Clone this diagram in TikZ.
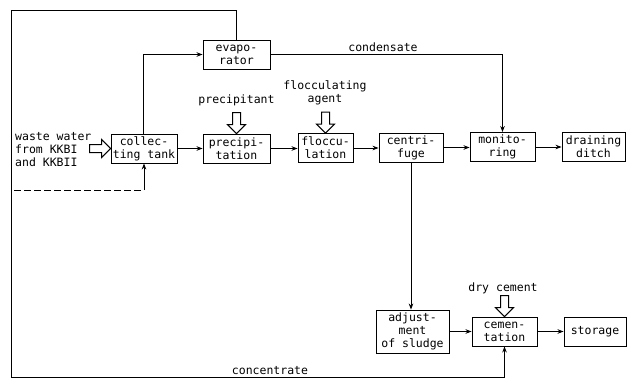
\documentclass[tikz,border=0pt]{standalone}
\usepackage{fontspec}
\setmonofont{DejaVu Sans Mono}
\usetikzlibrary{arrows.meta}
\begin{document}
\begin{tikzpicture}[x=1pt,y=-1pt,
  every node/.style={font=\ttfamily\fontsize{11.5}{13}\selectfont},
  box/.style={draw,line width=0.9pt,rectangle,inner sep=0pt,align=center,minimum height=29pt},
  lbl/.style={inner sep=0pt,align=center},
  flow/.style={line width=0.8pt,-{Stealth[length=6pt,width=4.5pt]}},
  line/.style={line width=0.8pt},
  harrow/.pic={\draw[line width=1pt,fill=white] (0,0) -- (-9,9) -- (-9,4) -- (-21,4) -- (-21,-4) -- (-9,-4) -- (-9,-9) -- cycle;}
]
\useasboundingbox[fill=white] (0,0) rectangle (627,380);
% boxes
\node[box,minimum width=67pt] (evap) at (236.5,54.5) {evapo-\\rator};
\node[box,minimum width=66pt] (coll) at (144,148.5) {collec-\\ting tank};
\node[box,minimum width=67pt] (prec) at (236.5,148.5) {precipi-\\tation};
\node[box,minimum width=55pt] (floc) at (325.5,148) {floccu-\\lation};
\node[box,minimum width=64pt] (cent) at (411,147.5) {centri-\\fuge};
\node[box,minimum width=65pt] (moni) at (502.5,147) {monito-\\ring};
\node[box,minimum width=63pt] (drain) at (593.5,147) {draining\\ditch};
\node[box,minimum width=73pt,minimum height=43pt] (adj) at (412.5,331.5) {adjust-\\ment\\of sludge};
\node[box,minimum width=65pt] (cem) at (504.5,331.5) {cemen-\\tation};
\node[box,minimum width=62pt] (stor) at (595,331.5) {storage};
% labels
\node[lbl,anchor=west,align=left] (waste) at (15,150) {waste water\\from KKBI\\and KKBII};
\node[lbl] (precl) at (236.5,100) {precipitant};
\node[lbl] (flocl) at (325,93) {flocculating\\agent};
\node[lbl] (conds) at (383,47) {condensate};
\node[lbl] (dryc) at (503,288) {dry cement};
\node[lbl] (conc) at (270,371) {concentrate};
% hollow arrows
\pic at (coll.west) {harrow};
\pic[rotate=-90] at (prec.north) {harrow};
\pic[rotate=-90] at (floc.north) {harrow};
\pic[rotate=-90] at (cem.north) {harrow};
% main flow
\draw[flow] (coll.east) -- (coll.east -| prec.west);
\draw[flow] (prec.east) -- (prec.east -| floc.west);
\draw[flow] (floc.east) -- (floc.east -| cent.west);
\draw[flow] (cent.east) -- (cent.east -| moni.west);
\draw[flow] (moni.east) -- (moni.east -| drain.west);
\coordinate (cup) at (143,56);
\draw[flow] (coll.north -| cup) |- (evap.west);
\draw[flow] (evap.east) -| (moni.north);
\draw[flow] (cent.south) -- (cent.south |- adj.north);
\draw[flow] (adj.east) -- (cem.west);
\draw[flow] (cem.east) -- (stor.west);
% concentrate loop
\coordinate (tl) at (11,10);
\coordinate (bl) at (11,377);
\draw[flow] (evap.north) |- (tl) -- (bl) -| (cem.south);
% dashed return
\coordinate (ds) at (14,190);
\coordinate (dc) at (144,190);
\draw[line,dashed,dash pattern=on 7pt off 3pt] (ds) -- (dc);
\draw[flow] (dc) -- (coll.south);
\end{tikzpicture}
\end{document}
